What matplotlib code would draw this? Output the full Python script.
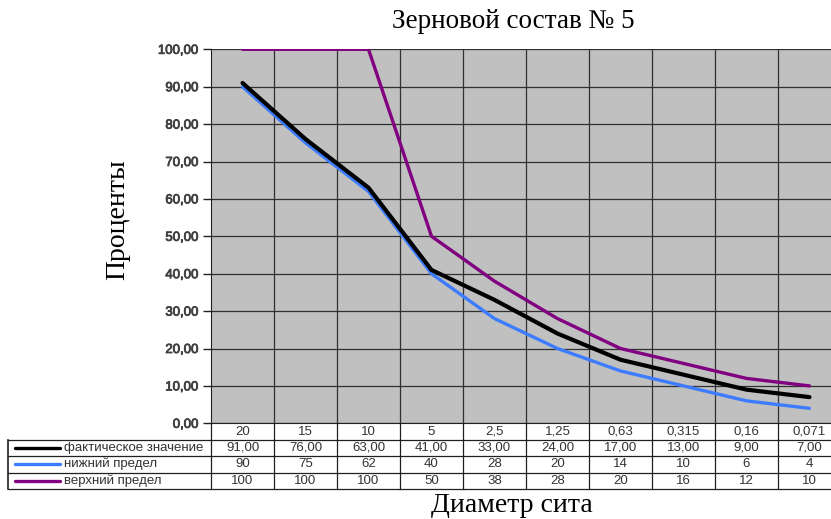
import matplotlib.pyplot as plt
import matplotlib.patheffects as pe
from matplotlib.lines import Line2D

sieves = ["20", "15", "10", "5", "2,5", "1,25", "0,63", "0,315", "0,16", "0,071"]
actual = [91, 76, 63, 41, 33, 24, 17, 13, 9, 7]
lower = [90, 75, 62, 40, 28, 20, 14, 10, 6, 4]
upper = [100, 100, 100, 50, 38, 28, 20, 16, 12, 10]

series_names = ["фактическое значение", "нижний предел", "верхний предел"]
series_colors = ["#000000", "#3d7cff", "#800080"]

W, H = 831, 519
fig = plt.figure(figsize=(W / 100, H / 100), dpi=100)

def fx(px):
    return px / W

def fy(py):
    return 1 - py / H

# plot area in pixel terms
left, right, top, bottom = 211, 841, 49.3, 423.3
ax = fig.add_axes([fx(left), fy(bottom), fx(right - left), fy(top) - fy(bottom)])
ax.set_facecolor("#c0c0c0")
n = len(sieves)
ax.set_xlim(0, n)
ax.set_ylim(0, 100)
ax.set_xticks(range(1, n), minor=True)
ax.set_xticks([])
ax.set_yticks(range(0, 101, 10))
ylabels = ax.set_yticklabels([f"{v:.2f}".replace(".", ",") for v in range(0, 101, 10)],
                             fontsize=9.5, color="#404040", family="Liberation Sans")
for t in ylabels:
    t.set_path_effects([pe.withStroke(linewidth=0.6, foreground="#404040")])
ax.tick_params(axis="y", length=6, width=1, color="#202020", pad=3)
ax.tick_params(axis="x", which="minor", length=0)
ax.grid(True, axis="y", color="#303030", lw=0.9)
ax.grid(True, axis="x", which="minor", color="#303030", lw=0.9)
for s in ["top", "right"]:
    ax.spines[s].set_visible(False)
ax.spines["left"].set_color("#202020")
ax.spines["bottom"].set_color("#202020")
ax.set_axisbelow(True)

xs = [i + 0.5 for i in range(n)]
ax.plot(xs, lower, color=series_colors[1], lw=2.4, solid_capstyle="round", zorder=3)
ax.plot(xs, actual, color=series_colors[0], lw=3.0, solid_capstyle="round", zorder=4)
ax.plot(xs, upper, color=series_colors[2], lw=2.4, solid_capstyle="round", zorder=5)

# data table under the chart
t_left, t_top, t_bot = 8, 423.3, 489
tab = fig.add_axes([fx(t_left), fy(t_bot), fx(right - t_left), fy(t_top) - fy(t_bot)])
unit = (right - left) / n
tab.set_xlim(-(left - t_left) / unit, n)
tab.set_ylim(t_bot, t_top)
tab.axis("off")
rows = [440, 456, 472.5, 489]
lc = "#202020"
for y in rows:
    tab.plot([tab.get_xlim()[0], n], [y, y], color=lc, lw=0.9, clip_on=False)
for i in range(n + 1):
    tab.plot([i, i], [t_top, t_bot], color=lc, lw=0.9, clip_on=False)
x0 = tab.get_xlim()[0]
tab.plot([x0, x0], [rows[0], t_bot], color=lc, lw=1.2, clip_on=False)

tkw = dict(fontsize=9.5, color="#333333", family="Liberation Sans", va="center", ha="center")
for i, s in enumerate(sieves):
    tab.text(i + 0.5, (t_top + rows[0]) / 2, s, **tkw)

table_rows = [
    [f"{v:.2f}".replace(".", ",") for v in actual],
    [str(v) for v in lower],
    [str(v) for v in upper],
]
for r, (name, color, vals) in enumerate(zip(series_names, series_colors, table_rows)):
    yc = (rows[r] + rows[r + 1]) / 2
    for i, v in enumerate(vals):
        tab.text(i + 0.5, yc, v, **tkw)
    k0 = x0 + 7 / unit
    k1 = x0 + 52 / unit
    tab.add_line(Line2D([k0, k1], [yc, yc], color=color, lw=2.4, solid_capstyle="round"))
    tab.text(x0 + 56 / unit, yc, name, fontsize=9.5, color="#333333",
             family="Liberation Sans", va="center", ha="left")

serif = "Liberation Serif"
fig.text(fx(513), fy(22), "Зерновой состав № 5", fontsize=19.5, family=serif,
         ha="center", va="center")
fig.text(fx(118), fy(220), "Проценты", fontsize=20, family=serif,
         ha="center", va="center", rotation=90)
fig.text(fx(512), fy(506), "Диаметр сита", fontsize=20, family=serif,
         ha="center", va="center")

fig.savefig("out.png", dpi=100)
